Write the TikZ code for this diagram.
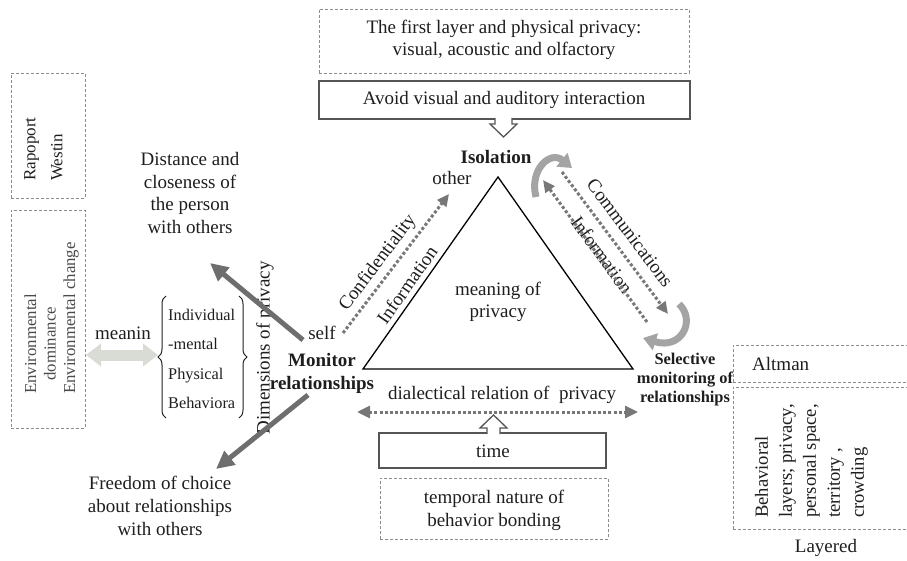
\documentclass[tikz,border=0pt]{standalone}
\usepackage{fontspec}
\setmainfont{Liberation Serif}
\usepackage{calc}
\usetikzlibrary{arrows.meta,decorations.pathreplacing}
\definecolor{txt}{HTML}{1E1E1E}
\definecolor{envtxt}{HTML}{4A4A4A}
\definecolor{dashgray}{HTML}{8C8C8C}
\definecolor{boxgray}{HTML}{555555}
\definecolor{dotgray}{HTML}{777777}
\definecolor{darkarrow}{HTML}{6E6E6E}
\definecolor{lightarrow}{HTML}{D8DCD4}
\definecolor{curvegray}{HTML}{A4A4A4}
\begin{document}
\begin{tikzpicture}[x=1pt,y=-1pt,
  lbl/.style={font=\fontsize{19}{22.6}\selectfont, text=txt, inner sep=0pt, align=center},
  blbl/.style={lbl, font=\fontsize{19}{23}\selectfont\bfseries},
  dbox/.style={draw=dashgray, line width=0.8pt, dash pattern=on 3pt off 2pt, inner sep=0pt},
  sbox/.style={draw=boxgray, line width=1.6pt, inner sep=0pt},
  dotarrow/.style={draw=dotgray, line width=3pt, dash pattern=on 3pt off 2.2pt, -{Triangle[length=12pt,width=11pt]}},
  dotdouble/.style={draw=dotgray, line width=3pt, dash pattern=on 3pt off 2.2pt, {Triangle[length=13pt,width=12pt]}-{Triangle[length=13pt,width=12pt]}},
  darrow/.style={draw=darkarrow, line width=5pt, -{Triangle[length=18pt,width=17pt]}},
  carrow/.style={draw=curvegray, line width=7pt, -{Triangle[length=13pt,width=17pt]}},
  hollow/.style={draw=boxgray, line width=1.3pt, fill=white}
]
\useasboundingbox (0,0) rectangle (907,561);

% ---------- boxes ----------
\node[dbox, minimum width=370pt, minimum height=64pt] (topbox) at (504,41) {};
\node[sbox, minimum width=371pt, minimum height=38pt] (avoidbox) at (504.5,100) {};
\node[sbox, minimum width=227pt, minimum height=35pt] (timebox) at (492.5,450.5) {};
\node[dbox, minimum width=228pt, minimum height=61pt] (tempbox) at (494,508.5) {};
\node[dbox, minimum width=74pt, minimum height=125pt] (rapbox) at (48,135.5) {};
\node[dbox, minimum width=74pt, minimum height=218pt] (envbox) at (48,319) {};
\node[dbox, minimum width=187pt, minimum height=37pt] (altbox) at (826.5,363.5) {};
\node[dbox, minimum width=187pt, minimum height=142pt] (behbox) at (826.5,458) {};

% ---------- hollow arrows ----------
\fill[white] (495,118) -- (495,124) -- (490,124) -- (503.5,137) -- (517,124) -- (512,124) -- (512,118) -- cycle;
\draw[hollow, fill=none, line join=miter] (495,118) -- (495,124) -- (490,124) -- (503.5,137) -- (517,124) -- (512,124) -- (512,118);
\fill[white] (487,434) -- (487,428) -- (480,428) -- (493.5,415) -- (507,428) -- (500,428) -- (500,434) -- cycle;
\draw[hollow, fill=none, line join=miter] (487,434) -- (487,428) -- (480,428) -- (493.5,415) -- (507,428) -- (500,428) -- (500,434);

% ---------- triangle ----------
\coordinate (apex) at (498,177);
\coordinate (bl) at (363,369);
\coordinate (br) at (633,369);
\draw[line width=1.3pt, black, line join=miter] (apex) -- (br) -- (bl) -- cycle;

% ---------- texts ----------
\node[lbl] (toptxt) at (504,40) {The first layer and physical privacy:\\visual, acoustic and olfactory};
\node[lbl] (avoid) at (504,100) {Avoid visual and auditory interaction};
\node[blbl] (iso) at (496,157) {Isolation};
\node[lbl] (other) at (452,178) {other};
\node[lbl] (meaning) at (498,302) {meaning of\\privacy};
\node[lbl] (self) at (322,333) {self};
\node[lbl, rotate=53] (conf) at (378,263) {Confidentiality};
\node[lbl, rotate=55] (infol) at (407,285) {Information};
\node[lbl, rotate=-53] (comm) at (630,233) {Communications};
\node[lbl, rotate=-54] (infor) at (602,255) {Information};
\node[blbl] (monitor) at (322,373.5) {Monitor\\relationships};
\node[lbl, font=\fontsize{16.4}{19}\selectfont\bfseries] (selective) at (685,380) {Selective\\monitoring of\\relationships};
\node[lbl] (dial) at (502,395) {dialectical relation of\ \ privacy};
\node[lbl] (time) at (493,451) {time};
\node[lbl, font=\fontsize{19}{23}\selectfont] (temporal) at (494,510) {temporal nature of\\behavior bonding};
\node[lbl, anchor=west] (altman) at (752,364) {Altman};
\node[lbl, rotate=90, anchor=west, align=left, font=\fontsize{18.6}{24}\selectfont] (behav) at (811.5,518) {Behavioral\\layers; privacy,\\personal space,\\territory ,\\crowding};
\node[lbl] (layered) at (826,548) {Layered};
\node[lbl, rotate=90, anchor=west, align=left, font=\fontsize{17}{27}\selectfont] (rap) at (43.5,181) {Rapoport\\Westin};
\node[lbl, rotate=90, anchor=west, align=left, text=envtxt, font=\fontsize{16.8}{19.5}\selectfont] (env) at (51.5,394) {Environmental\\\makebox[\widthof{Environmental}][c]{dominance}\\Environmental change};
\node[lbl] (meanin) at (123,333) {meanin};
\node[lbl, anchor=west, align=left, font=\fontsize{16.3}{29.3}\selectfont] (list) at (168,359) {Individual\\-mental\\Physical\\Behaviora};
\node[lbl, rotate=90] (dims) at (265,348) {Dimensions of privacy};
\node[lbl] (distance) at (190,193) {Distance and\\closeness of\\the person\\with others};
\node[lbl, font=\fontsize{19}{23}\selectfont] (freedom) at (160,506) {Freedom of choice\\about relationships\\with others};

% ---------- braces ----------
\coordinate (lbt) at (166,296);
\coordinate (lbb) at (166,418);
\coordinate (rbt) at (239,296);
\coordinate (rbb) at (239,418);
\draw[txt, line width=1pt, decorate, decoration={brace, amplitude=8pt}] (lbb) -- (lbt);
\draw[txt, line width=1pt, decorate, decoration={brace, amplitude=8pt}] (rbt) -- (rbb);

% ---------- connectors ----------
\coordinate (c1s) at (343,333);
\coordinate (c1e) at (449,194);
\draw[dotarrow] (c1s) -- (c1e);
\coordinate (c2s) at (562,172);
\coordinate (c2e) at (668,314);
\draw[dotarrow] (c2s) -- (c2e);
\coordinate (c3s) at (647,322);
\coordinate (c3e) at (543,180);
\draw[dotarrow] (c3s) -- (c3e);
\coordinate (dl) at (357,412);
\coordinate (dr) at (638,412);
\draw[dotdouble] (dl) -- (dr);

\coordinate (da1s) at (303,340);
\coordinate (da1e) at (210,263);
\draw[darrow] (da1s) -- (da1e);
\coordinate (da2s) at (308,395);
\coordinate (da2e) at (216,469);
\draw[darrow] (da2s) -- (da2e);

\coordinate (la1) at (86,355);
\coordinate (la2) at (158,355);
\draw[draw=lightarrow, line width=11pt, {Triangle[length=15pt,width=22pt]}-{Triangle[length=15pt,width=22pt]}] (la1) -- (la2);

\coordinate (ca1s) at (536,197);
\coordinate (ca1e) at (572,168);
\draw[carrow] (ca1s) .. controls (529,170) and (550,150) .. (ca1e);
\coordinate (ca2s) at (679,304);
\coordinate (ca2e) at (643,338);
\draw[carrow] (ca2s) .. controls (696,320) and (682,350) .. (ca2e);
\end{tikzpicture}
\end{document}
